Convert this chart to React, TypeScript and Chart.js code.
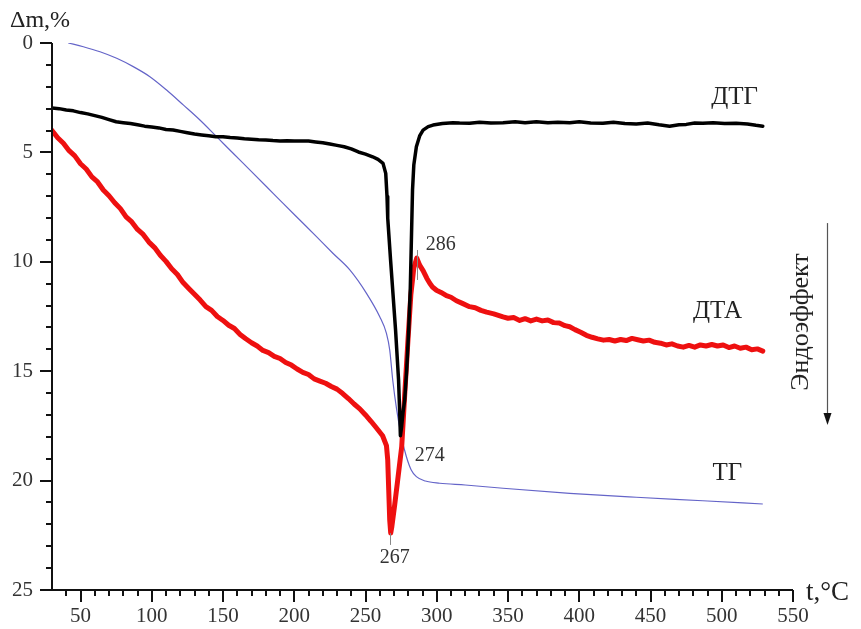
import React, { useEffect, useRef } from "react";
import { Chart, registerables } from "chart.js";

Chart.register(...registerables);

// ---- data (temperature °C, value %) ----
const tgT = [41.4, 52, 63.7, 75.4, 87, 98.7, 110.4, 122.1, 133.8, 145.5, 157.1, 168.8, 180.6, 192.2, 203.9, 215.6, 227.3, 239, 250.7, 260, 264.7, 267, 269.1, 271.9, 275.2, 278.7, 282, 285.7, 292, 302.1, 320, 346.5, 393.3, 440, 486.7, 528.8];
const tgM = [0.0, 0.17, 0.4, 0.7, 1.08, 1.54, 2.15, 2.83, 3.52, 4.28, 5.04, 5.8, 6.57, 7.33, 8.09, 8.85, 9.62, 10.37, 11.44, 12.51, 13.27, 14.03, 15.4, 16.77, 18.0, 18.91, 19.5, 19.82, 20.02, 20.12, 20.2, 20.35, 20.58, 20.76, 20.92, 21.07];

const dtgT = [30, 35, 40, 45, 50, 55, 60, 65, 70, 75, 80, 85, 90, 95, 100, 105, 110, 115, 120, 125, 130, 135, 140, 145, 150, 155, 160, 165, 170, 175, 180, 185, 190, 195, 200, 205, 210, 215, 220, 225, 230, 235, 240, 245, 250, 255, 258.8, 262.3, 264.2, 265.1, 265.6, 267.6, 271.1, 273.2, 274.0, 274.5, 275.4, 276.3, 277.5, 278.9, 280.3, 281.4, 282.2, 283.0, 283.9, 285.7, 288, 290.4, 294, 297.4, 304, 311.4, 316, 323.1, 330, 338, 346.5, 355, 362, 369.9, 378, 385, 393.3, 400, 408, 416.6, 424, 432, 440, 448, 456, 463.4, 470, 475.1, 481, 486.7, 494, 502, 510.1, 518, 524, 528.8];
const dtgM = [2.97, 3.0, 3.06, 3.1, 3.18, 3.24, 3.32, 3.4, 3.5, 3.6, 3.64, 3.68, 3.74, 3.8, 3.84, 3.88, 3.95, 3.98, 4.04, 4.1, 4.16, 4.2, 4.24, 4.28, 4.28, 4.32, 4.34, 4.38, 4.4, 4.42, 4.43, 4.46, 4.48, 4.47, 4.48, 4.48, 4.48, 4.52, 4.56, 4.62, 4.68, 4.74, 4.84, 4.98, 5.08, 5.2, 5.32, 5.5, 5.96, 7.02, 8.0, 9.92, 13.12, 15.4, 16.9, 17.95, 17.5, 16.9, 16.32, 14.95, 13.12, 11.29, 9.0, 6.72, 5.58, 4.74, 4.25, 3.98, 3.82, 3.75, 3.68, 3.64, 3.66, 3.67, 3.62, 3.66, 3.64, 3.6, 3.64, 3.6, 3.65, 3.62, 3.64, 3.6, 3.66, 3.67, 3.62, 3.68, 3.7, 3.66, 3.74, 3.8, 3.74, 3.72, 3.66, 3.67, 3.64, 3.68, 3.67, 3.7, 3.76, 3.8];

const dtaT = [30, 34, 38, 42, 46, 50, 54, 58, 62, 66, 70, 74, 78, 82, 86, 90, 94, 98, 102, 106, 110, 114, 118, 122, 126, 130, 134, 138, 142, 146, 150, 154, 158, 162, 166, 170, 174, 178, 182, 186, 190, 194, 198, 202, 206, 210, 214, 218, 222, 226, 230, 234, 238, 242, 246, 250, 254, 258, 262, 264.7, 265.6, 266.3, 267.0, 267.7, 268.5, 270.5, 272.6, 275.4, 277.5, 279.6, 281.8, 283.9, 286.0, 288, 290.4, 293, 295.1, 297, 299.8, 303, 306.8, 310, 313.8, 318, 323, 327, 331, 335, 340, 346.5, 350, 354, 358.2, 362, 366, 370, 374, 378, 382, 386, 390, 393.3, 397, 401, 405, 409, 413, 417, 421, 425, 429, 433, 437, 441, 445, 449, 453, 457, 461, 465, 469, 473, 477, 481, 485, 489, 493, 497, 501, 505, 509, 513, 517, 521, 525, 528.8];
const dtaM = [4.0, 4.33, 4.58, 4.92, 5.16, 5.52, 5.76, 6.12, 6.35, 6.72, 6.98, 7.3, 7.57, 7.95, 8.18, 8.52, 8.75, 9.1, 9.35, 9.7, 9.98, 10.32, 10.58, 10.95, 11.22, 11.48, 11.75, 12.05, 12.22, 12.5, 12.68, 12.9, 13.05, 13.32, 13.52, 13.7, 13.85, 14.05, 14.15, 14.32, 14.42, 14.6, 14.72, 14.9, 15.05, 15.15, 15.35, 15.45, 15.55, 15.7, 15.82, 16.02, 16.25, 16.5, 16.72, 17.0, 17.3, 17.62, 17.95, 18.4, 19.06, 20.43, 21.8, 22.4, 22.1, 21.1, 19.97, 18.46, 16.09, 13.8, 11.52, 10.28, 9.83, 10.15, 10.4, 10.75, 10.98, 11.15, 11.3, 11.4, 11.55, 11.62, 11.78, 11.9, 12.05, 12.1, 12.22, 12.3, 12.38, 12.52, 12.58, 12.55, 12.68, 12.6, 12.7, 12.62, 12.7, 12.66, 12.78, 12.8, 12.92, 12.97, 13.1, 13.22, 13.36, 13.45, 13.52, 13.58, 13.55, 13.62, 13.55, 13.6, 13.5, 13.56, 13.62, 13.58, 13.68, 13.72, 13.8, 13.75, 13.85, 13.9, 13.82, 13.9, 13.8, 13.85, 13.78, 13.85, 13.8, 13.92, 13.85, 13.95, 13.9, 14.02, 13.98, 14.08];

const xMin = 30;
const xMax = 550;
const yMin = 0;
const yMax = 25;
const xTickValues = [50, 100, 150, 200, 250, 300, 350, 400, 450, 500, 550];
const yTickValues = [0, 5, 10, 15, 20, 25];
const xMinorStep = 10;
const yMinorStep = 1;

const curveLabels = [
  { text: "ДТГ", t: 509, m: 2.51 },
  { text: "ДТА", t: 497, m: 12.29 },
  { text: "ТГ", t: 504, m: 19.65 },
];
const peakLabels = [
  { text: "286", t: 302.8, m: 9.23, leadT: 286, lead: [9.46, 10.83] },
  { text: "274", t: 295, m: 18.88, leadT: null, lead: null },
  { text: "267", t: 270.5, m: 23.54, leadT: 267, lead: [22.4, 22.94] },
];
const effectLabel = { text: "Эндоэффект", t: 556, m: 12.75 };
const effectArrow = { t: 574.2, from: 8.23, to: 17.46 };

const SERIF = "'Liberation Serif', 'Times New Roman', serif";

const pts = (xs: number[], ys: number[]) => xs.map((x, i) => ({ x, y: ys[i] }));

const decorPlugin = {
  id: "decor",
  afterDraw(chart: any) {
    const { ctx, chartArea: ca, scales } = chart;
    const x = scales.x;
    const y = scales.y;
    ctx.save();
    ctx.strokeStyle = "#111";
    ctx.lineWidth = 2;
    ctx.lineCap = "butt";
    // axes
    ctx.beginPath();
    ctx.moveTo(ca.left, ca.top);
    ctx.lineTo(ca.left, ca.bottom);
    ctx.lineTo(ca.right, ca.bottom);
    ctx.stroke();
    // y ticks
    for (let v = yMin; v <= yMax + 1e-9; v += yMinorStep) {
      const p = Math.round(y.getPixelForValue(v));
      const major = yTickValues.includes(v);
      ctx.beginPath();
      ctx.moveTo(ca.left, p);
      ctx.lineTo(ca.left - (major ? 12 : 6), p);
      ctx.stroke();
    }
    // x ticks
    for (let v = xMin + xMinorStep; v <= xMax + 1e-9; v += xMinorStep) {
      const p = Math.round(x.getPixelForValue(v));
      const major = xTickValues.includes(v);
      ctx.beginPath();
      ctx.moveTo(p, ca.bottom);
      ctx.lineTo(p, ca.bottom + (major ? 12 : 6));
      ctx.stroke();
    }
    // axis titles
    ctx.fillStyle = "#222";
    ctx.font = `24px ${SERIF}`;
    ctx.textBaseline = "middle";
    ctx.textAlign = "left";
    ctx.fillText("Δm,%", ca.left - 42, ca.top - 22);
    ctx.font = `27px ${SERIF}`;
    ctx.fillText("t,°C", ca.right + 13, ca.bottom + 3);

    // curve labels
    ctx.fillStyle = "#222";
    ctx.textAlign = "center";
    ctx.font = `25px ${SERIF}`;
    for (const l of curveLabels) {
      ctx.fillText(l.text, x.getPixelForValue(l.t), y.getPixelForValue(l.m));
    }
    // peak labels and leader lines
    ctx.font = `20px ${SERIF}`;
    ctx.fillStyle = "#333";
    for (const l of peakLabels) {
      ctx.fillText(l.text, x.getPixelForValue(l.t), y.getPixelForValue(l.m));
      if (l.lead && l.leadT !== null) {
        const px = Math.round(x.getPixelForValue(l.leadT)) + 0.5;
        ctx.strokeStyle = "#888";
        ctx.lineWidth = 1;
        ctx.beginPath();
        ctx.moveTo(px, y.getPixelForValue(l.lead[0]));
        ctx.lineTo(px, y.getPixelForValue(l.lead[1]));
        ctx.stroke();
      }
    }
    // endo effect label (rotated)
    ctx.save();
    ctx.translate(x.getPixelForValue(effectLabel.t), y.getPixelForValue(effectLabel.m));
    ctx.rotate(-Math.PI / 2);
    ctx.font = `26px ${SERIF}`;
    ctx.fillStyle = "#222";
    ctx.textAlign = "center";
    ctx.textBaseline = "middle";
    ctx.fillText(effectLabel.text, 0, 0);
    ctx.restore();
    // arrow
    const ax = Math.round(x.getPixelForValue(effectArrow.t)) + 0.5;
    const ay0 = y.getPixelForValue(effectArrow.from);
    const ay1 = y.getPixelForValue(effectArrow.to);
    ctx.strokeStyle = "#555";
    ctx.lineWidth = 1.2;
    ctx.beginPath();
    ctx.moveTo(ax, ay0);
    ctx.lineTo(ax, ay1 - 10);
    ctx.stroke();
    ctx.fillStyle = "#111";
    ctx.beginPath();
    ctx.moveTo(ax, ay1);
    ctx.lineTo(ax - 4, ay1 - 12);
    ctx.lineTo(ax + 4, ay1 - 12);
    ctx.closePath();
    ctx.fill();
    ctx.restore();
  },
};

export default function App() {
  const ref = useRef<HTMLCanvasElement>(null);
  useEffect(() => {
    if (!ref.current) return;
    const chart = new Chart(ref.current, {
      type: "scatter",
      data: {
        datasets: [
          {
            label: "ДТГ",
            data: pts(dtgT, dtgM),
            showLine: true,
            borderColor: "#000000",
            borderWidth: 3.5,
            pointRadius: 0,
            tension: 0,
            borderJoinStyle: "round",
            borderCapStyle: "round",
          },
          {
            label: "ДТА",
            data: pts(dtaT, dtaM),
            showLine: true,
            borderColor: "#ee1010",
            borderWidth: 5,
            pointRadius: 0,
            tension: 0,
            borderJoinStyle: "round",
            borderCapStyle: "round",
          },
          {
            label: "ТГ",
            data: pts(tgT, tgM),
            showLine: true,
            borderColor: "#6464c8",
            borderWidth: 1.2,
            pointRadius: 0,
            cubicInterpolationMode: "monotone",
          },
        ],
      },
      options: {
        responsive: false,
        animation: false,
        devicePixelRatio: 1,
        layout: { padding: { left: 0, right: 68, top: 43, bottom: 0 } },
        plugins: {
          legend: { display: false },
          tooltip: { enabled: false },
        },
        scales: {
          x: {
            type: "linear",
            min: xMin,
            max: xMax,
            grid: { display: false, drawTicks: false },
            border: { display: false },
            afterBuildTicks: (s: any) => {
              s.ticks = xTickValues.map((v) => ({ value: v }));
            },
            afterFit: (s: any) => {
              s.height = 39;
            },
            ticks: {
              autoSkip: false,
              maxRotation: 0,
              padding: 14,
              color: "#333",
              font: { family: SERIF, size: 21 },
            },
          },
          y: {
            type: "linear",
            reverse: true,
            min: yMin,
            max: yMax,
            grid: { display: false, drawTicks: false },
            border: { display: false },
            afterBuildTicks: (s: any) => {
              s.ticks = yTickValues.map((v) => ({ value: v }));
            },
            afterFit: (s: any) => {
              s.width = 52;
            },
            ticks: {
              autoSkip: false,
              padding: 19,
              color: "#333",
              font: { family: SERIF, size: 21 },
            },
          },
        },
      },
      plugins: [decorPlugin],
    } as any);
    return () => chart.destroy();
  }, []);
  return (
    <div style={{ position: "fixed", left: 0, top: 0, width: 861, height: 629, background: "#fff" }}>
      <canvas ref={ref} width={861} height={629} style={{ display: "block" }} />
    </div>
  );
}
